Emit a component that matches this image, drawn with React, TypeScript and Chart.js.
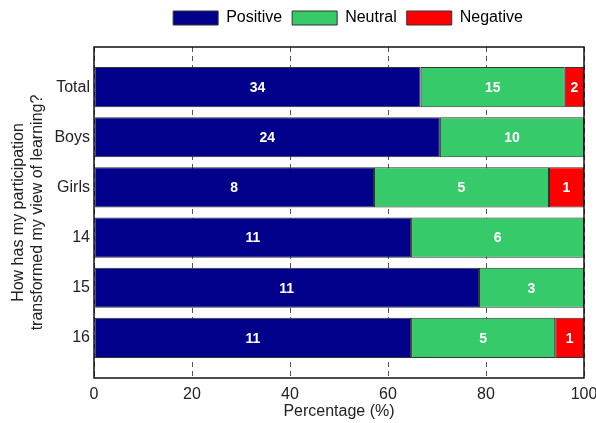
import React, { useEffect, useRef } from "react";
import { Chart, registerables } from "chart.js";

Chart.register(...registerables);

const CATEGORIES = ["Total", "Boys", "Girls", "14", "15", "16"];
const POSITIVE = [34, 24, 8, 11, 11, 11];
const NEUTRAL = [15, 10, 5, 6, 3, 5];
const NEGATIVE = [2, 0, 1, 0, 0, 1];
const SERIES_NAMES = ["Positive", "Neutral", "Negative"];
const X_TICKS = [0, 20, 40, 60, 80, 100];
const Y_TITLE = ["How has my participation", "transformed my view of learning?"];
const X_TITLE = "Percentage (%)";

const COLORS = ["#00008B", "#37CA6B", "#FF0000"];
const FONT = "'Liberation Sans', Arial, sans-serif";

export default function App() {
  const ref = useRef<HTMLCanvasElement>(null);

  useEffect(() => {
    const canvas = ref.current;
    if (!canvas) return;
    const series = [POSITIVE, NEUTRAL, NEGATIVE];
    const totals = CATEGORIES.map((_, i) => POSITIVE[i] + NEUTRAL[i] + NEGATIVE[i]);

    const datasets = series.map((vals, s) => ({
      label: SERIES_NAMES[s],
      data: CATEGORIES.map((_, i) => ({
        x: vals[i] > 0 ? (vals[i] / totals[i]) * 100 : null,
        y: i,
      })),
      counts: vals,
      backgroundColor: COLORS[s],
      borderColor: "#333333",
      borderWidth: 1,
      borderSkipped: false,
      categoryPercentage: 1,
      barPercentage: 0.8,
    }));

    const labelPlugin = {
      id: "segLabels",
      afterDatasetsDraw(chart: any) {
        const ctx = chart.ctx;
        ctx.save();
        ctx.fillStyle = "#ffffff";
        ctx.font = `bold 14px ${FONT}`;
        ctx.textAlign = "center";
        ctx.textBaseline = "middle";
        chart.data.datasets.forEach((ds: any, di: number) => {
          const meta = chart.getDatasetMeta(di);
          meta.data.forEach((el: any, i: number) => {
            const c = ds.counts[i];
            if (!c) return;
            const cx = (el.x + el.base) / 2;
            ctx.fillText(String(c), cx, el.y + 1);
          });
        });
        ctx.restore();
      },
    };

    const framePlugin = {
      id: "frame",
      afterDraw(chart: any) {
        const { ctx, chartArea: a } = chart;
        ctx.save();
        ctx.strokeStyle = "#111111";
        ctx.lineWidth = 1.5;
        ctx.strokeRect(a.left, a.top, a.right - a.left, a.bottom - a.top);
        ctx.restore();
      },
    };

    const legendShift = {
      id: "legendShift",
      afterLayout(chart: any) {
        if (chart.legend) {
          chart.legend.left += 9;
          chart.legend.right += 9;
        }
      },
    };

    const chart = new Chart(canvas, {
      type: "bar",
      data: { datasets: datasets as any },
      plugins: [labelPlugin, framePlugin, legendShift],
      options: {
        animation: false,
        responsive: false,
        indexAxis: "y",
        layout: { padding: { left: 0, right: 12, top: 0, bottom: 0 } },
        plugins: {
          tooltip: { enabled: false },
          legend: {
            position: "top",
            fullSize: false,
            labels: {
              boxWidth: 45,
              boxHeight: 14,
              padding: 10,
              color: "#000",
              font: { size: 16, family: FONT },
            },
          },
        },
        scales: {
          x: {
            type: "linear",
            position: "bottom",
            stacked: true,
            min: 0,
            max: 100,
            afterBuildTicks(s: any) {
              s.ticks = X_TICKS.map((v) => ({ value: v }));
            },
            afterFit(s: any) {
              s.height = 45;
              s.paddingLeft = 0;
              s.paddingRight = 0;
            },
            grid: {
              display: true,
              drawTicks: false,
              color: "#555555",
              lineWidth: 1,
            },
            border: { display: false, dash: [5, 4] },
            ticks: {
              padding: 7,
              color: "#222",
              font: { size: 16, family: FONT },
              maxRotation: 0,
            },
            title: {
              display: true,
              text: X_TITLE,
              color: "#222",
              font: { size: 16, family: FONT },
              padding: { top: 0, bottom: 2 },
            },
          },
          xTop: {
            type: "linear",
            position: "top",
            display: true,
            min: 0,
            max: 100,
            grid: { display: false, drawTicks: false },
            border: { display: false },
            ticks: { display: false },
            afterFit(s: any) {
              s.height = 11;
              s.paddingLeft = 0;
              s.paddingRight = 0;
            },
          },
          y: {
            type: "linear",
            stacked: true,
            reverse: true,
            offset: false,
            bounds: "data",
            min: -0.8,
            max: 5.8,
            afterBuildTicks(s: any) {
              s.ticks = CATEGORIES.map((_, i) => ({ value: i }));
            },
            afterFit(s: any) {
              s.width = 94;
              s.paddingTop = 0;
              s.paddingBottom = 0;
            },
            grid: { display: false, drawTicks: false, offset: false },
            border: { display: false },
            ticks: {
              padding: 4,
              color: "#222",
              font: { size: 16, family: FONT },
              callback: (v: any) => CATEGORIES[Math.round(Number(v))] ?? "",
            },
            title: {
              display: true,
              text: Y_TITLE,
              color: "#222",
              font: { size: 16, family: FONT },
              padding: { top: 9, bottom: 0 },
            },
          },
        },
      } as any,
    });

    return () => chart.destroy();
  }, []);

  return (
    <div style={{ position: "fixed", left: 0, top: 0, width: 596, height: 423, background: "#fff" }}>
      <canvas ref={ref} width={596} height={423} style={{ width: 596, height: 423, display: "block" }} />
    </div>
  );
}
